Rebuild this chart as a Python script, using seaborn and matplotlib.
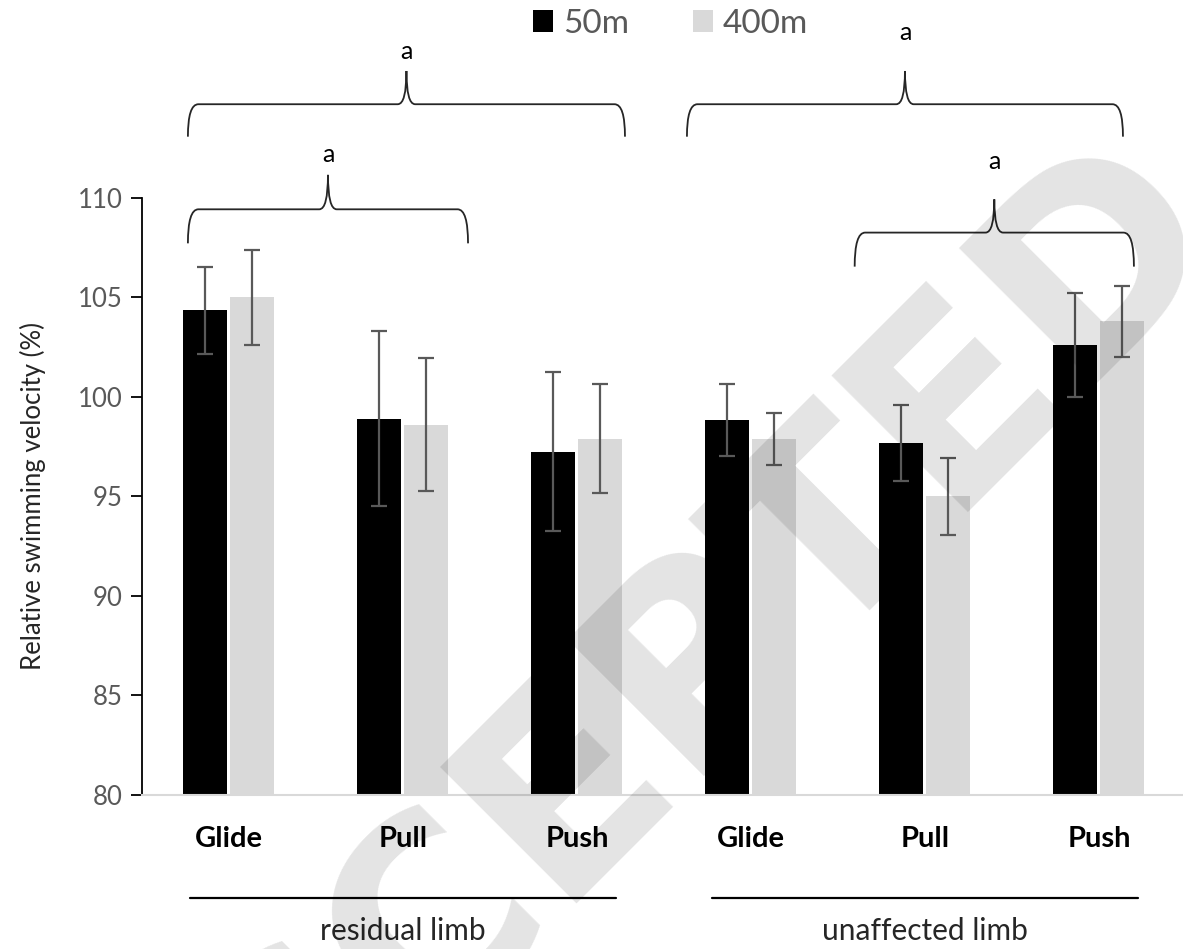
"""
Relative swimming velocity per stroke phase, 50m vs 400m
"""

import numpy as np
import pandas as pd
import matplotlib
matplotlib.use('Agg')
import matplotlib.pyplot as plt
import seaborn as sns
from matplotlib.path import Path
from matplotlib.patches import PathPatch, Patch

# ============================================================================
# DATA
# ============================================================================

phases = ["Glide", "Pull", "Push"]
limbs = ["residual limb", "unaffected limb"]
distances = ["50m", "400m"]

vel_50 = [104.35, 98.9, 97.25, 98.85, 97.7, 102.6]
vel_400 = [105.0, 98.6, 97.9, 97.9, 95.0, 103.8]
sd_50 = [2.2, 4.4, 4.0, 1.8, 1.9, 2.6]
sd_400 = [2.4, 3.35, 2.75, 1.3, 1.95, 1.8]

yticks = [80, 85, 90, 95, 100, 105, 110]

slots = [f"{limb}|{phase}" for limb in limbs for phase in phases]
df = pd.DataFrame({
    "slot": slots * 2,
    "velocity": vel_50 + vel_400,
    "distance": ["50m"] * 6 + ["400m"] * 6,
})

# ============================================================================
# PLOT
# ============================================================================

sns.set_theme(style="white")
plt.rcParams['font.family'] = ['Lato', 'DejaVu Sans']

fig = plt.figure(figsize=(11.83, 9.49), dpi=100)
ax = fig.add_axes([0.12, 0.1623, 0.8825, 0.6291])

colors = {"50m": "black", "400m": "#d9d9d9"}
sns.barplot(data=df, x="slot", y="velocity", hue="distance", order=slots,
            hue_order=distances, palette=colors, width=0.54, gap=0.064,
            errorbar=None, linewidth=0, legend=False, ax=ax)

# error bars on top of each bar
for container, sd in zip(ax.containers, [sd_50, sd_400]):
    xs = [b.get_x() + b.get_width() / 2 for b in container]
    ys = [b.get_height() for b in container]
    ax.errorbar(xs, ys, yerr=sd, fmt='none', ecolor='#595959',
                elinewidth=1.6, capsize=5.5, capthick=1.6, zorder=3)

ax.set_ylim(80, 110)
ax.set_xlim(-0.5, 5.5)
ax.set_yticks(yticks)
ax.set_yticklabels([str(t) for t in yticks], fontsize=18.5, color='#595959')
ax.set_xticks(range(len(slots)))
ax.set_xticklabels(phases * 2, fontsize=21, fontweight='bold', color='black')
ax.tick_params(axis='x', length=0, pad=22)
ax.tick_params(axis='y', length=8, width=1.3, color='black', direction='out', pad=6, left=True)
ax.set_xlabel("")
ax.set_ylabel("Relative swimming velocity (%)", fontsize=18.5, color='#262626', labelpad=23)

sns.despine(ax=ax, top=True, right=True)
ax.spines['left'].set_color('black')
ax.spines['left'].set_linewidth(1.3)
ax.spines['bottom'].set_color('#d9d9d9')
ax.spines['bottom'].set_linewidth(1.5)

# limb group lines and labels below the phases
for i, limb in enumerate(limbs):
    xc = 1 + 3 * i
    ax.plot([xc - 1.225, xc + 1.225], [74.84, 74.84], color='black', lw=1.6,
            clip_on=False)
    ax.text(xc, 73.15, limb, ha='center', va='center', fontsize=21.5,
            color='#262626')


def draw_brace(ax, x0, x1, y, y_end, y_tip, label_y, corner=0.06, cusp=0.05):
    xc = (x0 + x1) / 2
    verts = [(x0, y_end), (x0, y), (x0 + corner, y),
             (xc - cusp, y), (xc, y), (xc, y_tip),
             (xc, y), (xc + cusp, y),
             (x1 - corner, y), (x1, y), (x1, y_end)]
    codes = [Path.MOVETO, Path.CURVE3, Path.CURVE3,
             Path.LINETO, Path.CURVE3, Path.CURVE3,
             Path.CURVE3, Path.CURVE3,
             Path.LINETO, Path.CURVE3, Path.CURVE3]
    ax.add_patch(PathPatch(Path(verts, codes), fill=False, lw=1.3,
                           edgecolor='#262626', clip_on=False))
    ax.text(xc, label_y, "a", ha='center', va='center', fontsize=18,
            color='black')


draw_brace(ax, -0.236, 2.276, 114.71, 113.08, 116.38, 117.35)
draw_brace(ax, -0.236, 1.374, 109.43, 107.72, 111.16, 112.2)
draw_brace(ax, 2.632, 5.138, 114.71, 113.08, 116.38, 118.3)
draw_brace(ax, 3.596, 5.201, 108.26, 106.55, 109.93, 111.82)

handles = [Patch(facecolor=colors[d], edgecolor='none') for d in distances]
fig.legend(handles=handles, labels=distances, loc='center',
           bbox_to_anchor=(0.567, 0.975), ncol=2, frameon=False, fontsize=24,
           handlelength=0.6, handleheight=0.6, handletextpad=0.3,
           columnspacing=1.9, labelcolor='#595959')

# watermark: dark with low alpha so it only shows on white and grey
fig.text(0.5376, 0.2202, "ACCEPTED", rotation=45, fontsize=190,
         fontweight='bold', family='DejaVu Sans', color='black', alpha=0.11,
         ha='center', va='center', zorder=10)

fig.savefig("out.png", dpi=100)
